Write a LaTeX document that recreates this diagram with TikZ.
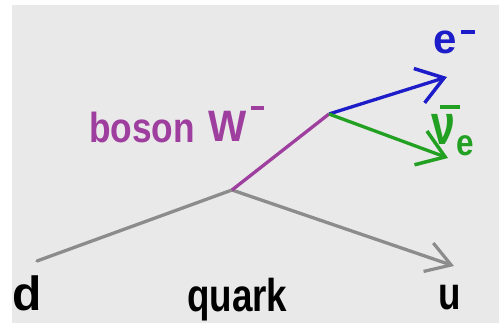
\documentclass[tikz,border=0pt]{standalone}
\usepackage{fontspec}
\setmainfont{Liberation Sans}
\usetikzlibrary{arrows.meta}
\definecolor{bgc}{HTML}{E9E9E9}
\definecolor{quarkc}{HTML}{8C8C8C}
\definecolor{bosonc}{HTML}{9E3E9E}
\definecolor{elec}{HTML}{1C1CC8}
\definecolor{neut}{HTML}{22A022}
\tikzset{
  line/.style={line width=3.3pt},
  barb/.style={-{Straight Barb[length=26pt,width=36pt,line width=3.5pt]}},
  lab/.style={inner sep=0pt,anchor=base west}
}
\newcommand{\fs}[3]{\fontsize{#1}{#1}\selectfont\scalebox{#2}[1]{#3}}
\begin{document}
\begin{tikzpicture}[x=1pt,y=-1pt]
\useasboundingbox (0,0) rectangle (499,326);
\fill[white] (0,0) rectangle (499,326);
\fill[bgc] (12,5) rectangle (499,323);
% vertices and ends
\coordinate (din) at (37,261);
\coordinate (v1) at (232,190);
\coordinate (v2) at (329,114);
\coordinate (uout) at (454,266);
\coordinate (eout) at (447,77);
\coordinate (nout) at (448,158);
% lines
\draw[line,quarkc,line cap=round] (din) -- (v1);
\draw[line,quarkc,-{Straight Barb[length=24pt,width=30pt,line width=3.2pt]}] (v1) -- (uout);
\draw[line,bosonc] (v1) -- (v2);
\draw[line,elec,barb] (v2) -- (eout);
\draw[line,neut,barb] (v2) -- (nout);
% labels
\node[lab,font=\bfseries] (d) at (12,311) {\fs{48}{1}{d}};
\node[lab,font=\bfseries] (quark) at (187,312) {\fs{46}{0.8}{quark}};
\node[lab,font=\bfseries] (u) at (438,310) {\fs{46}{0.8}{u}};
\node[lab,text=bosonc,font=\bfseries] (boson) at (89,143) {\fs{42}{0.84}{boson}};
\node[lab,text=bosonc,font=\bfseries] (W) at (208,142) {\fs{44}{0.92}{W}};
\fill[bosonc] (251,106) rectangle (264,110);
\node[lab,text=elec,font=\bfseries] (e) at (433,54) {\fs{42}{1}{e}};
\fill[elec] (461,30) rectangle (475,34);
\node[lab,text=neut,font=\bfseries] (nu) at (431,145) {\fs{57}{0.75}{ν}};
\fill[neut] (440,105) rectangle (460,109);
\node[lab,text=neut,font=\bfseries] (esub) at (456,156) {\fs{37}{0.85}{e}};
\end{tikzpicture}
\end{document}
